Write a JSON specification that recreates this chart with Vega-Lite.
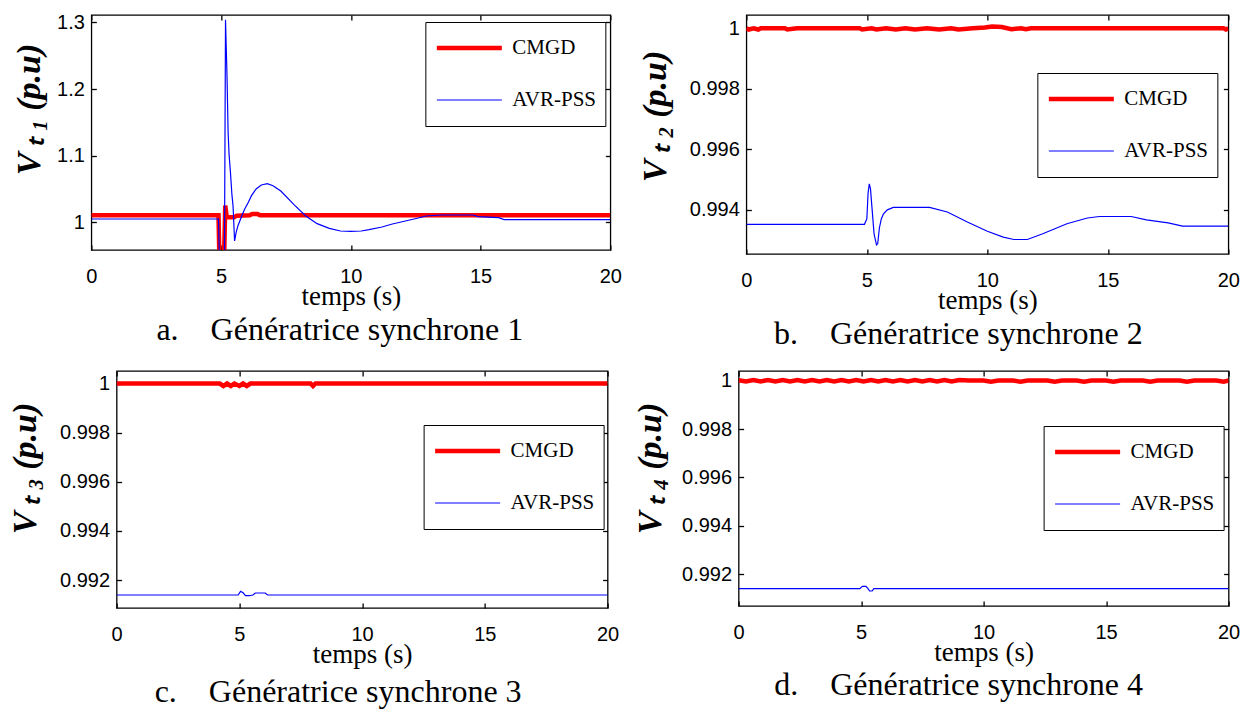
{
 "$schema": "https://vega.github.io/schema/vega-lite/v6.json",
 "background": "white",
 "padding": {"left": 7, "top": 11, "right": 0, "bottom": 0},
 "config": {
  "view": {"stroke": "black", "strokeWidth": 1.3},
  "axis": {"grid": false, "domain": false, "ticks": true, "tickColor": "black", "tickSize": -5, "tickWidth": 1.3, "labelFont": "Liberation Sans", "labelFontSize": 20, "labelColor": "black", "labelFlush": false, "labelOverlap": false, "titleFont": "Liberation Serif", "titleColor": "black"},
  "axisX": {"labelPadding": 21, "titleFontSize": 27, "titleFontWeight": "normal"},
  "axisY": {"labelPadding": 12, "titleFontSize": 34, "titleFontWeight": "bold", "titleFontStyle": "italic"},
  "legend": {"orient": "none", "symbolType": "stroke", "symbolSize": 4225, "clipHeight": 34, "rowPadding": 18, "padding": 9, "strokeColor": "black", "fillColor": "white", "labelFont": "Liberation Serif", "labelFontSize": 21, "labelColor": "black", "labelOffset": 8, "symbolOffset": 0},
  "title": {"font": "Liberation Serif", "fontSize": 32, "fontWeight": "normal", "color": "black", "orient": "bottom", "anchor": "middle", "offset": 6}
 },
 "datasets": {
  "a": [
   {"t":0,"v":1.0105,"s":"CMGD"},{"t":4.9,"v":1.0105,"s":"CMGD"},{"t":4.93,"v":0.955,"s":"CMGD"},{"t":5.12,"v":0.955,"s":"CMGD"},{"t":5.16,"v":1.025,"s":"CMGD"},{"t":5.22,"v":1.0075,"s":"CMGD"},{"t":5.5,"v":1.0075,"s":"CMGD"},{"t":5.6,"v":1.01,"s":"CMGD"},{"t":6.1,"v":1.0105,"s":"CMGD"},{"t":6.2,"v":1.0125,"s":"CMGD"},{"t":6.4,"v":1.0125,"s":"CMGD"},{"t":6.5,"v":1.0105,"s":"CMGD"},{"t":20,"v":1.0105,"s":"CMGD"},
   {"t":0,"v":1.005,"s":"AVR-PSS"},{"t":4.9,"v":1.005,"s":"AVR-PSS"},{"t":4.93,"v":0.955,"s":"AVR-PSS"},{"t":5.13,"v":0.955,"s":"AVR-PSS"},{"t":5.17,"v":1.304,"s":"AVR-PSS"},{"t":5.2,"v":1.26,"s":"AVR-PSS"},{"t":5.23,"v":1.215,"s":"AVR-PSS"},{"t":5.27,"v":1.135,"s":"AVR-PSS"},{"t":5.31,"v":1.1,"s":"AVR-PSS"},{"t":5.36,"v":1.075,"s":"AVR-PSS"},{"t":5.42,"v":1.04,"s":"AVR-PSS"},{"t":5.46,"v":1.025,"s":"AVR-PSS"},{"t":5.52,"v":0.972,"s":"AVR-PSS"},{"t":5.58,"v":0.985,"s":"AVR-PSS"},{"t":5.65,"v":0.995,"s":"AVR-PSS"},{"t":5.8,"v":1.01,"s":"AVR-PSS"},{"t":5.91,"v":1.02,"s":"AVR-PSS"},{"t":6.05,"v":1.03,"s":"AVR-PSS"},{"t":6.17,"v":1.04,"s":"AVR-PSS"},{"t":6.35,"v":1.05,"s":"AVR-PSS"},{"t":6.55,"v":1.056,"s":"AVR-PSS"},{"t":6.78,"v":1.058,"s":"AVR-PSS"},{"t":7.0,"v":1.055,"s":"AVR-PSS"},{"t":7.3,"v":1.047,"s":"AVR-PSS"},{"t":7.8,"v":1.027,"s":"AVR-PSS"},{"t":8.25,"v":1.01,"s":"AVR-PSS"},{"t":8.7,"v":0.998,"s":"AVR-PSS"},{"t":9.17,"v":0.991,"s":"AVR-PSS"},{"t":9.6,"v":0.987,"s":"AVR-PSS"},{"t":10.0,"v":0.9865,"s":"AVR-PSS"},{"t":10.4,"v":0.987,"s":"AVR-PSS"},{"t":10.7,"v":0.989,"s":"AVR-PSS"},{"t":11.2,"v":0.993,"s":"AVR-PSS"},{"t":11.6,"v":0.9975,"s":"AVR-PSS"},{"t":12.1,"v":1.002,"s":"AVR-PSS"},{"t":12.6,"v":1.0065,"s":"AVR-PSS"},{"t":12.9,"v":1.0095,"s":"AVR-PSS"},{"t":13.5,"v":1.011,"s":"AVR-PSS"},{"t":14.7,"v":1.011,"s":"AVR-PSS"},{"t":14.9,"v":1.0085,"s":"AVR-PSS"},{"t":15.7,"v":1.007,"s":"AVR-PSS"},{"t":15.9,"v":1.004,"s":"AVR-PSS"},{"t":20,"v":1.004,"s":"AVR-PSS"}
  ],
  "b": [
   {"t":0,"v":1.0,"s":"CMGD"},{"t":0.1,"v":0.99996,"s":"CMGD"},{"t":0.3,"v":1.0,"s":"CMGD"},{"t":0.5,"v":0.99996,"s":"CMGD"},{"t":0.6,"v":1.0,"s":"CMGD"},{"t":1.6,"v":1.0,"s":"CMGD"},{"t":1.7,"v":0.99996,"s":"CMGD"},{"t":2.1,"v":1.0,"s":"CMGD"},{"t":4.7,"v":1.0,"s":"CMGD"},{"t":4.8,"v":0.99996,"s":"CMGD"},{"t":5.2,"v":1.0,"s":"CMGD"},{"t":5.4,"v":0.99996,"s":"CMGD"},{"t":5.8,"v":1.0,"s":"CMGD"},{"t":6.2,"v":0.99996,"s":"CMGD"},{"t":6.6,"v":1.0,"s":"CMGD"},{"t":7.0,"v":0.99996,"s":"CMGD"},{"t":7.5,"v":1.0,"s":"CMGD"},{"t":8.0,"v":0.99996,"s":"CMGD"},{"t":8.5,"v":1.0,"s":"CMGD"},{"t":8.8,"v":0.99996,"s":"CMGD"},{"t":9.4,"v":1.0,"s":"CMGD"},{"t":9.9,"v":1.00003,"s":"CMGD"},{"t":10.2,"v":1.00006,"s":"CMGD"},{"t":10.6,"v":1.00004,"s":"CMGD"},{"t":11.0,"v":0.99997,"s":"CMGD"},{"t":11.4,"v":1.0,"s":"CMGD"},{"t":11.6,"v":0.99997,"s":"CMGD"},{"t":11.8,"v":1.0,"s":"CMGD"},{"t":19.8,"v":1.0,"s":"CMGD"},{"t":19.9,"v":0.99996,"s":"CMGD"},{"t":20,"v":1.0,"s":"CMGD"},
   {"t":0,"v":0.99352,"s":"AVR-PSS"},{"t":4.9,"v":0.99352,"s":"AVR-PSS"},{"t":5.0,"v":0.9937,"s":"AVR-PSS"},{"t":5.05,"v":0.99455,"s":"AVR-PSS"},{"t":5.1,"v":0.99486,"s":"AVR-PSS"},{"t":5.15,"v":0.9947,"s":"AVR-PSS"},{"t":5.22,"v":0.994,"s":"AVR-PSS"},{"t":5.3,"v":0.9932,"s":"AVR-PSS"},{"t":5.4,"v":0.99284,"s":"AVR-PSS"},{"t":5.45,"v":0.99288,"s":"AVR-PSS"},{"t":5.52,"v":0.9934,"s":"AVR-PSS"},{"t":5.6,"v":0.9937,"s":"AVR-PSS"},{"t":5.69,"v":0.99387,"s":"AVR-PSS"},{"t":5.85,"v":0.994,"s":"AVR-PSS"},{"t":6.1,"v":0.99408,"s":"AVR-PSS"},{"t":7.6,"v":0.99408,"s":"AVR-PSS"},{"t":8.34,"v":0.99393,"s":"AVR-PSS"},{"t":9.17,"v":0.9936,"s":"AVR-PSS"},{"t":10.0,"v":0.99329,"s":"AVR-PSS"},{"t":10.66,"v":0.9931,"s":"AVR-PSS"},{"t":11.1,"v":0.99302,"s":"AVR-PSS"},{"t":11.66,"v":0.99302,"s":"AVR-PSS"},{"t":12.3,"v":0.99321,"s":"AVR-PSS"},{"t":13.3,"v":0.99354,"s":"AVR-PSS"},{"t":14.15,"v":0.99373,"s":"AVR-PSS"},{"t":14.65,"v":0.99378,"s":"AVR-PSS"},{"t":15.97,"v":0.99378,"s":"AVR-PSS"},{"t":16.6,"v":0.99367,"s":"AVR-PSS"},{"t":17.5,"v":0.99357,"s":"AVR-PSS"},{"t":18.1,"v":0.99346,"s":"AVR-PSS"},{"t":20,"v":0.99346,"s":"AVR-PSS"}
  ],
  "c": [
   {"t":0,"v":1.0,"s":"CMGD"},{"t":4.2,"v":1.0,"s":"CMGD"},{"t":4.35,"v":0.9999,"s":"CMGD"},{"t":4.5,"v":1.0,"s":"CMGD"},{"t":4.65,"v":0.9999,"s":"CMGD"},{"t":4.8,"v":1.0,"s":"CMGD"},{"t":5.0,"v":0.9999,"s":"CMGD"},{"t":5.15,"v":1.0,"s":"CMGD"},{"t":5.3,"v":0.9999,"s":"CMGD"},{"t":5.45,"v":1.0,"s":"CMGD"},{"t":7.9,"v":1.0,"s":"CMGD"},{"t":8.0,"v":0.9999,"s":"CMGD"},{"t":8.1,"v":1.0,"s":"CMGD"},{"t":20,"v":1.0,"s":"CMGD"},
   {"t":0,"v":0.99139,"s":"AVR-PSS"},{"t":4.95,"v":0.99139,"s":"AVR-PSS"},{"t":5.05,"v":0.99154,"s":"AVR-PSS"},{"t":5.15,"v":0.99148,"s":"AVR-PSS"},{"t":5.25,"v":0.99136,"s":"AVR-PSS"},{"t":5.4,"v":0.99136,"s":"AVR-PSS"},{"t":5.55,"v":0.99139,"s":"AVR-PSS"},{"t":5.65,"v":0.99147,"s":"AVR-PSS"},{"t":6.05,"v":0.99147,"s":"AVR-PSS"},{"t":6.15,"v":0.99139,"s":"AVR-PSS"},{"t":20,"v":0.99139,"s":"AVR-PSS"}
  ],
  "d": [
   {"t":0,"v":1.00002,"s":"CMGD"},{"t":0.3,"v":0.99997,"s":"CMGD"},{"t":0.6,"v":1.00003,"s":"CMGD"},{"t":0.9,"v":0.99997,"s":"CMGD"},{"t":1.2,"v":1.00003,"s":"CMGD"},{"t":1.5,"v":0.99997,"s":"CMGD"},{"t":1.8,"v":1.00003,"s":"CMGD"},{"t":2.1,"v":0.99997,"s":"CMGD"},{"t":2.4,"v":1.00003,"s":"CMGD"},{"t":2.7,"v":0.99997,"s":"CMGD"},{"t":3.0,"v":1.00003,"s":"CMGD"},{"t":3.3,"v":0.99997,"s":"CMGD"},{"t":3.6,"v":1.00003,"s":"CMGD"},{"t":3.9,"v":0.99997,"s":"CMGD"},{"t":4.2,"v":1.00003,"s":"CMGD"},{"t":4.5,"v":0.99997,"s":"CMGD"},{"t":4.8,"v":1.00003,"s":"CMGD"},{"t":5.1,"v":0.99997,"s":"CMGD"},{"t":5.4,"v":1.00003,"s":"CMGD"},{"t":5.7,"v":0.99997,"s":"CMGD"},{"t":6.0,"v":1.00003,"s":"CMGD"},{"t":6.3,"v":0.99997,"s":"CMGD"},{"t":6.6,"v":1.00003,"s":"CMGD"},{"t":6.9,"v":0.99997,"s":"CMGD"},{"t":7.2,"v":1.00003,"s":"CMGD"},{"t":7.5,"v":0.99997,"s":"CMGD"},{"t":7.8,"v":1.00003,"s":"CMGD"},{"t":8.1,"v":0.99997,"s":"CMGD"},{"t":8.4,"v":1.00003,"s":"CMGD"},{"t":8.7,"v":0.99997,"s":"CMGD"},{"t":9.0,"v":1.00003,"s":"CMGD"},{"t":9.4,"v":1.00001,"s":"CMGD"},{"t":10.0,"v":1.00001,"s":"CMGD"},{"t":10.3,"v":0.99996,"s":"CMGD"},{"t":10.6,"v":1.00001,"s":"CMGD"},{"t":11.2,"v":1.00001,"s":"CMGD"},{"t":11.5,"v":0.99996,"s":"CMGD"},{"t":11.8,"v":1.00001,"s":"CMGD"},{"t":12.6,"v":1.00001,"s":"CMGD"},{"t":12.9,"v":0.99996,"s":"CMGD"},{"t":13.2,"v":1.00001,"s":"CMGD"},{"t":13.8,"v":1.00001,"s":"CMGD"},{"t":14.1,"v":0.99996,"s":"CMGD"},{"t":14.4,"v":1.00001,"s":"CMGD"},{"t":15.0,"v":1.00001,"s":"CMGD"},{"t":15.3,"v":0.99996,"s":"CMGD"},{"t":15.6,"v":1.00001,"s":"CMGD"},{"t":16.5,"v":1.00001,"s":"CMGD"},{"t":16.8,"v":0.99996,"s":"CMGD"},{"t":17.1,"v":1.00001,"s":"CMGD"},{"t":18.0,"v":1.00001,"s":"CMGD"},{"t":18.3,"v":0.99996,"s":"CMGD"},{"t":18.6,"v":1.00001,"s":"CMGD"},{"t":19.5,"v":1.00001,"s":"CMGD"},{"t":19.8,"v":0.99996,"s":"CMGD"},{"t":20,"v":1.00001,"s":"CMGD"},
   {"t":0,"v":0.99141,"s":"AVR-PSS"},{"t":4.95,"v":0.99141,"s":"AVR-PSS"},{"t":5.05,"v":0.9915,"s":"AVR-PSS"},{"t":5.2,"v":0.9915,"s":"AVR-PSS"},{"t":5.28,"v":0.99141,"s":"AVR-PSS"},{"t":5.35,"v":0.99131,"s":"AVR-PSS"},{"t":5.45,"v":0.99131,"s":"AVR-PSS"},{"t":5.52,"v":0.99141,"s":"AVR-PSS"},{"t":20,"v":0.99141,"s":"AVR-PSS"}
  ]
 },
 "center": true,
 "spacing": 18,
 "resolve": {"scale": {"color": "independent", "strokeWidth": "independent"}, "legend": {"color": "independent", "strokeWidth": "independent"}},
 "vconcat": [
  {"spacing": 15,
   "resolve": {"scale": {"color": "independent", "strokeWidth": "independent"}, "legend": {"color": "independent", "strokeWidth": "independent"}},
   "hconcat": [
   {"width": 519, "height": 235, "data": {"name": "a"},
    "title": {"text": "a.\u00a0\u00a0\u00a0\u00a0Génératrice synchrone 1", "dx": -11},
    "resolve": {"axis": {"x": "independent", "y": "independent"}},
    "layer": [
     {"transform": [{"filter": "datum.s === 'CMGD'"}], "mark": {"type": "line", "clip": true},
      "encoding": {
       "x": {"field": "t", "type": "quantitative", "scale": {"domain": [0, 20], "nice": false, "zero": false}, "axis": {"values": [0, 5, 10, 15, 20], "title": "temps (s)", "titlePadding": -3}},
       "y": {"field": "v", "type": "quantitative", "scale": {"domain": [0.9585, 1.311], "nice": false, "zero": false}, "axis": {"values": [1, 1.1, 1.2, 1.3], "format": "~g", "title": "V\u2009ₜ\u2009₁ (p.u)", "titlePadding": 10, "titleY": 94}},
       "color": {"field": "s", "type": "nominal", "scale": {"domain": ["CMGD", "AVR-PSS"], "range": ["#ff0000", "#0000ff"]}, "legend": {"title": null, "legendX": 334, "legendY": 7}},
       "strokeWidth": {"field": "s", "type": "ordinal", "scale": {"domain": ["CMGD", "AVR-PSS"], "range": [4.5, 1.2]}, "legend": {"title": null, "legendX": 334, "legendY": 7}}
      }},
     {"transform": [{"filter": "datum.s === 'AVR-PSS'"}], "mark": {"type": "line", "clip": true},
      "encoding": {
       "x": {"field": "t", "type": "quantitative", "axis": null},
       "y": {"field": "v", "type": "quantitative", "axis": null},
       "color": {"field": "s", "type": "nominal", "legend": {"title": null, "legendX": 334, "legendY": 7}},
       "strokeWidth": {"field": "s", "type": "ordinal", "legend": {"title": null, "legendX": 334, "legendY": 7}}
      }},
     {"mark": {"type": "line", "opacity": 0},
      "encoding": {
       "x": {"field": "t", "type": "quantitative", "axis": {"orient": "top", "labels": false, "title": null, "values": [0, 5, 10, 15, 20]}},
       "y": {"field": "v", "type": "quantitative", "axis": {"orient": "right", "labels": false, "title": null, "values": [1, 1.1, 1.2, 1.3]}}
      }}
    ]},
   {"width": 482, "height": 239, "data": {"name": "b"},
    "title": {"text": "b.\u00a0\u00a0\u00a0\u00a0Génératrice synchrone 2", "dx": -29},
    "resolve": {"axis": {"x": "independent", "y": "independent"}},
    "layer": [
     {"transform": [{"filter": "datum.s === 'CMGD'"}], "mark": {"type": "line", "clip": true},
      "encoding": {
       "x": {"field": "t", "type": "quantitative", "scale": {"domain": [0, 20], "nice": false, "zero": false}, "axis": {"values": [0, 5, 10, 15, 20], "title": "temps (s)", "titlePadding": -3}},
       "y": {"field": "v", "type": "quantitative", "scale": {"domain": [0.99254, 1.00044], "nice": false, "zero": false}, "axis": {"values": [0.994, 0.996, 0.998, 1], "format": "~g", "title": "V\u2009ₜ\u2009₂ (p.u)", "titlePadding": 17, "titleY": 101}},
       "color": {"field": "s", "type": "nominal", "scale": {"domain": ["CMGD", "AVR-PSS"], "range": ["#ff0000", "#0000ff"]}, "legend": {"title": null, "legendX": 291, "legendY": 58}},
       "strokeWidth": {"field": "s", "type": "ordinal", "scale": {"domain": ["CMGD", "AVR-PSS"], "range": [4.5, 1.2]}, "legend": {"title": null, "legendX": 291, "legendY": 58}}
      }},
     {"transform": [{"filter": "datum.s === 'AVR-PSS'"}], "mark": {"type": "line", "clip": true},
      "encoding": {
       "x": {"field": "t", "type": "quantitative", "axis": null},
       "y": {"field": "v", "type": "quantitative", "axis": null},
       "color": {"field": "s", "type": "nominal", "legend": {"title": null, "legendX": 291, "legendY": 58}},
       "strokeWidth": {"field": "s", "type": "ordinal", "legend": {"title": null, "legendX": 291, "legendY": 58}}
      }},
     {"mark": {"type": "line", "opacity": 0},
      "encoding": {
       "x": {"field": "t", "type": "quantitative", "axis": {"orient": "top", "labels": false, "title": null, "values": [0, 5, 10, 15, 20]}},
       "y": {"field": "v", "type": "quantitative", "axis": {"orient": "right", "labels": false, "title": "\u00a0", "titleFontSize": 34, "titlePadding": 2, "values": [0.994, 0.996, 0.998, 1]}}
      }}
    ]}
  ]},
  {"spacing": 13,
   "resolve": {"scale": {"color": "independent", "strokeWidth": "independent"}, "legend": {"color": "independent", "strokeWidth": "independent"}},
   "hconcat": [
   {"width": 491, "height": 237, "data": {"name": "c"},
    "title": {"text": "c.\u00a0\u00a0\u00a0\u00a0Génératrice synchrone 3", "dx": -24, "offset": 10},
    "resolve": {"axis": {"x": "independent", "y": "independent"}},
    "layer": [
     {"transform": [{"filter": "datum.s === 'CMGD'"}], "mark": {"type": "line", "clip": true},
      "encoding": {
       "x": {"field": "t", "type": "quantitative", "scale": {"domain": [0, 20], "nice": false, "zero": false}, "axis": {"values": [0, 5, 10, 15, 20], "title": "temps (s)", "titlePadding": -3}},
       "y": {"field": "v", "type": "quantitative", "scale": {"domain": [0.99086, 1.00051], "nice": false, "zero": false}, "axis": {"values": [0.992, 0.994, 0.996, 0.998, 1], "format": "~g", "title": "V\u2009ₜ\u2009₃ (p.u)", "titlePadding": 17, "titleY": 97}},
       "color": {"field": "s", "type": "nominal", "scale": {"domain": ["CMGD", "AVR-PSS"], "range": ["#ff0000", "#0000ff"]}, "legend": {"title": null, "legendX": 307, "legendY": 54}},
       "strokeWidth": {"field": "s", "type": "ordinal", "scale": {"domain": ["CMGD", "AVR-PSS"], "range": [4.5, 1.2]}, "legend": {"title": null, "legendX": 307, "legendY": 54}}
      }},
     {"transform": [{"filter": "datum.s === 'AVR-PSS'"}], "mark": {"type": "line", "clip": true},
      "encoding": {
       "x": {"field": "t", "type": "quantitative", "axis": null},
       "y": {"field": "v", "type": "quantitative", "axis": null},
       "color": {"field": "s", "type": "nominal", "legend": {"title": null, "legendX": 307, "legendY": 54}},
       "strokeWidth": {"field": "s", "type": "ordinal", "legend": {"title": null, "legendX": 307, "legendY": 54}}
      }},
     {"mark": {"type": "line", "opacity": 0},
      "encoding": {
       "x": {"field": "t", "type": "quantitative", "axis": {"orient": "top", "labels": false, "title": null, "values": [0, 5, 10, 15, 20]}},
       "y": {"field": "v", "type": "quantitative", "axis": {"orient": "right", "labels": false, "title": null, "values": [0.992, 0.994, 0.996, 0.998, 1]}}
      }}
    ]},
   {"width": 490, "height": 235, "data": {"name": "d"},
    "title": {"text": "d.\u00a0\u00a0\u00a0\u00a0Génératrice synchrone 4", "dx": -25, "offset": 5},
    "resolve": {"axis": {"x": "independent", "y": "independent"}},
    "layer": [
     {"transform": [{"filter": "datum.s === 'CMGD'"}], "mark": {"type": "line", "clip": true},
      "encoding": {
       "x": {"field": "t", "type": "quantitative", "scale": {"domain": [0, 20], "nice": false, "zero": false}, "axis": {"values": [0, 5, 10, 15, 20], "title": "temps (s)", "titlePadding": -3}},
       "y": {"field": "v", "type": "quantitative", "scale": {"domain": [0.99069, 1.0004], "nice": false, "zero": false}, "axis": {"values": [0.992, 0.994, 0.996, 0.998, 1], "format": "~g", "title": "V\u2009ₜ\u2009₄ (p.u)", "titlePadding": 14, "titleY": 97}},
       "color": {"field": "s", "type": "nominal", "scale": {"domain": ["CMGD", "AVR-PSS"], "range": ["#ff0000", "#0000ff"]}, "legend": {"title": null, "legendX": 305, "legendY": 55}},
       "strokeWidth": {"field": "s", "type": "ordinal", "scale": {"domain": ["CMGD", "AVR-PSS"], "range": [4.5, 1.2]}, "legend": {"title": null, "legendX": 305, "legendY": 55}}
      }},
     {"transform": [{"filter": "datum.s === 'AVR-PSS'"}], "mark": {"type": "line", "clip": true},
      "encoding": {
       "x": {"field": "t", "type": "quantitative", "axis": null},
       "y": {"field": "v", "type": "quantitative", "axis": null},
       "color": {"field": "s", "type": "nominal", "legend": {"title": null, "legendX": 305, "legendY": 55}},
       "strokeWidth": {"field": "s", "type": "ordinal", "legend": {"title": null, "legendX": 305, "legendY": 55}}
      }},
     {"mark": {"type": "line", "opacity": 0},
      "encoding": {
       "x": {"field": "t", "type": "quantitative", "axis": {"orient": "top", "labels": false, "title": null, "values": [0, 5, 10, 15, 20]}},
       "y": {"field": "v", "type": "quantitative", "axis": {"orient": "right", "labels": false, "title": null, "values": [0.992, 0.994, 0.996, 0.998, 1]}}
      }}
    ]}
  ]}
 ]
}
